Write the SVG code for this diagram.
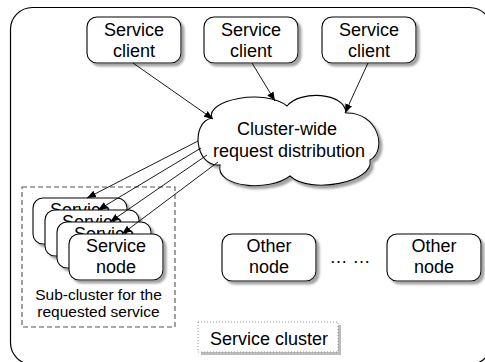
<svg xmlns="http://www.w3.org/2000/svg" width="485" height="362" viewBox="0 0 485 362">
<defs>
<style>
.t{font-family:"Liberation Sans",Arial,sans-serif;font-size:18px;fill:#000;text-anchor:middle}
.s{font-family:"Liberation Sans",Arial,sans-serif;font-size:15.5px;fill:#000;text-anchor:middle}
.box{fill:#fff;stroke:#000;stroke-width:1.1}
.sh{filter:url(#ds)}
.ln{stroke:#000;stroke-width:0.9;fill:none;marker-end:url(#ah)}
</style>
<filter id="ds" x="-20%" y="-20%" width="140%" height="140%">
<feDropShadow dx="3" dy="3" stdDeviation="0.8" flood-color="#999" flood-opacity="0.9"/>
</filter>
<marker id="ah" viewBox="0 0 10 10" refX="10" refY="5" markerWidth="9" markerHeight="9" markerUnits="userSpaceOnUse" orient="auto">
<path d="M0,1 L10,5 L0,9 z" fill="#000"/>
</marker>
</defs>
<rect width="485" height="362" fill="#fff"/>
<g id="service-cluster">
<rect x="10.5" y="7.5" width="481" height="357" rx="22" fill="none" stroke="#000" stroke-width="1.2"/>
</g>
<g id="client1">
<rect class="box sh" x="87" y="17" width="94" height="46" rx="10"/>
<text class="t" x="134" y="36">Service</text>
<text class="t" x="134" y="57">client</text>
</g>
<g id="client2">
<rect class="box sh" x="204" y="17" width="94" height="46" rx="10"/>
<text class="t" x="251" y="36">Service</text>
<text class="t" x="251" y="57">client</text>
</g>
<g id="client3">
<rect class="box sh" x="322" y="17" width="94" height="46" rx="10"/>
<text class="t" x="369" y="36">Service</text>
<text class="t" x="369" y="57">client</text>
</g>
<g id="distribution">
<path class="box sh" d="M212,118 C205,100 265,88 287,106 C300,90 345,92 346,113 C378,112 388,150 370,160 C375,182 310,195 290,176 C270,192 215,188 220,165 C195,168 190,122 212,118 Z"/>
<text class="t" x="287" y="135">Cluster-wide</text>
<text class="t" x="289" y="157">request distribution</text>
</g>
<g id="sub-cluster">
<rect x="22" y="187" width="153" height="140" fill="none" stroke="#555" stroke-width="1.1" stroke-dasharray="5,3"/>
<text class="s" x="98.5" y="300">Sub-cluster for the</text>
<text class="s" x="98.5" y="317">requested service</text>
</g>
<g id="service-node1">
<rect class="box sh" x="33" y="198" width="94" height="46" rx="10"/>
<text class="t" x="80" y="216">Service</text>
</g>
<g id="service-node2">
<rect class="box sh" x="45" y="210" width="94" height="46" rx="10"/>
<text class="t" x="92" y="228">Service</text>
</g>
<g id="service-node3">
<rect class="box sh" x="57" y="222" width="94" height="46" rx="10"/>
<text class="t" x="104" y="240">Service</text>
</g>
<g id="service-node4">
<rect class="box sh" x="69" y="234" width="94" height="46" rx="10"/>
<text class="t" x="116" y="252">Service</text>
<text class="t" x="116" y="273">node</text>
</g>
<g id="other-node1">
<rect class="box sh" x="222" y="234" width="94" height="47" rx="10"/>
<text class="t" x="269" y="252">Other</text>
<text class="t" x="269" y="273">node</text>
</g>
<g id="ellipsis">
<text class="t" x="350" y="263">… …</text>
</g>
<g id="other-node2">
<rect class="box sh" x="387" y="234" width="94" height="47" rx="10"/>
<text class="t" x="434" y="252">Other</text>
<text class="t" x="434" y="273">node</text>
</g>
<g id="cluster-label">
<rect x="201" y="325" width="140" height="30" fill="#bbb"/>
<rect x="198" y="322" width="140" height="30" fill="#fff" stroke="#888" stroke-width="0.9" stroke-dasharray="1,2"/>
<text class="t" x="269" y="345">Service cluster</text>
</g>
<g id="connectors">
<line class="ln" x1="133" y1="63" x2="213" y2="119"/>
<line class="ln" x1="252" y1="63" x2="275" y2="101"/>
<line class="ln" x1="368" y1="63" x2="345" y2="113"/>
<line class="ln" x1="198" y1="141" x2="87" y2="198"/>
<line class="ln" x1="201" y1="148" x2="98" y2="210"/>
<line class="ln" x1="207" y1="155" x2="110" y2="222"/>
<line class="ln" x1="218" y1="162" x2="122" y2="234"/>
</g>
</svg>
